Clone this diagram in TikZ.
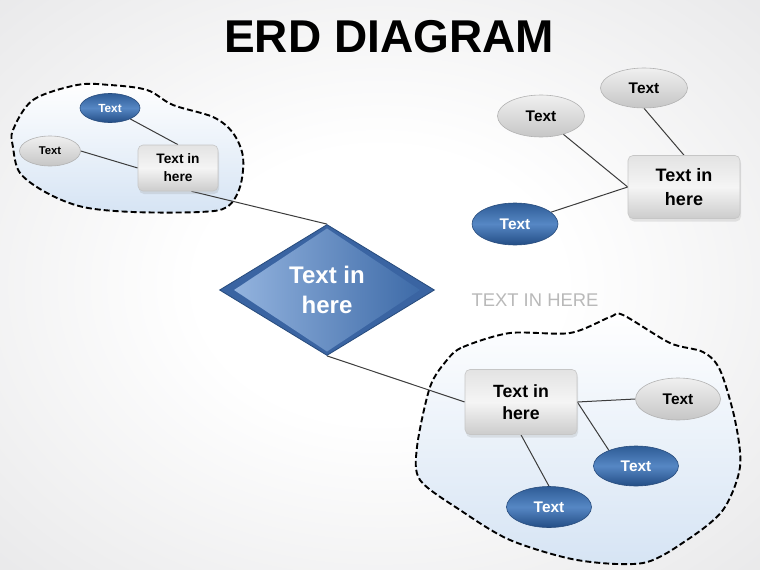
\documentclass[tikz,border=0pt]{standalone}
\usepackage{fontspec}
\setmainfont{Liberation Sans}
\usetikzlibrary{shapes.geometric,shadows}
\definecolor{bggray}{HTML}{DCDCDE}
\definecolor{bggray2}{HTML}{D2D2D4}
\definecolor{blobblue}{HTML}{D6E4F4}
\definecolor{linecol}{HTML}{3C3C3C}
\definecolor{bluetop}{HTML}{2E5C96}
\definecolor{bluemid}{HTML}{5687C4}
\definecolor{bluebot}{HTML}{234D85}
\definecolor{blueedge}{HTML}{274B7C}
\definecolor{diadark}{HTML}{3A64A2}
\definecolor{dialight}{HTML}{93B3DE}
\definecolor{diaright}{HTML}{3E6BA8}
\pgfdeclareradialshading{bgshade}{\pgfpoint{0bp}{0bp}}{color(0bp)=(white); color(12bp)=(white); color(50bp)=(bggray); color(71bp)=(bggray2)}
\pgfdeclarelayer{back}
\pgfdeclarelayer{lines}
\pgfsetlayers{back,lines,main}
\tikzset{
  gell/.style={ellipse, draw=gray!60, line width=0.6pt, top color=gray!12, bottom color=gray!45, inner sep=0pt, font=\bfseries, text=black},
  bell/.style={ellipse, draw=blueedge, line width=0.6pt, top color=bluetop, bottom color=bluebot, middle color=bluemid, inner sep=0pt, font=\bfseries, text=white},
  ebox/.style={rectangle, rounded corners=5pt, draw=gray!45, line width=0.6pt, top color=gray!22, bottom color=gray!40, middle color=gray!8, inner sep=0pt, align=center, font=\bfseries, text=black, drop shadow={opacity=0.18, shadow xshift=1pt, shadow yshift=-3pt}},
  link/.style={draw=linecol, line width=1pt},
  blob/.style={draw=black, line width=1.9pt, dash pattern=on 6pt off 3pt, top color=white, bottom color=blobblue},
}
\begin{document}
\begin{tikzpicture}[x=1pt,y=-1pt]
\useasboundingbox (0,0) rectangle (760,570);
\begin{pgfonlayer}{back}
  \shade[shading=bgshade] (0,0) rectangle (760,570);
  \path[blob] plot[smooth cycle, tension=0.55] coordinates {(13,130) (33,100) (77,85) (110,85) (147,90) (173,105) (213,117) (233,133) (243,157) (240,187) (227,207) (200,212) (133,212) (83,207) (47,193) (20,173) (13,147)};
  \path[blob] plot[smooth cycle, tension=0.5] coordinates {(447,360) (463,347) (510,333) (570,333) (610,317) (623,315) (670,343) (703,352) (720,370) (735,420) (740,467) (723,510) (687,540) (643,563) (577,560) (510,540) (460,510) (420,480) (417,447) (430,387)};
\end{pgfonlayer}

\node[font=\fontsize{46}{50}\selectfont\bfseries] (title) at (389,37) {ERD DIAGRAM};

% top-left group
\node[bell, minimum width=60pt, minimum height=29pt, font=\fontsize{11.8}{13}\selectfont\bfseries] (tlblue) at (110,108) {Text};
\node[gell, minimum width=61pt, minimum height=30pt, font=\fontsize{11.3}{13}\selectfont\bfseries] (tlgray) at (50,151) {Text};
\node[ebox, minimum width=80pt, minimum height=46pt, font=\fontsize{13.7}{18}\selectfont\bfseries] (tlbox) at (178,168) {Text in\\here};

% diamond
\node[diamond, fill=diadark, draw=blueedge, line width=0.8pt, minimum width=215pt, minimum height=131pt, inner sep=0pt] (dia) at (327,290) {};
\node[diamond, left color=dialight, right color=diaright, minimum width=186pt, minimum height=112pt, inner sep=0pt, align=center, text=white, font=\fontsize{24}{30}\selectfont\bfseries] (diain) at (327,290) {Text in\\here};

% top-right group
\node[gell, minimum width=87pt, minimum height=40pt, font=\fontsize{15.4}{18}\selectfont\bfseries] (trg1) at (644,88) {Text};
\node[gell, minimum width=87pt, minimum height=42pt, font=\fontsize{15.4}{18}\selectfont\bfseries] (trg2) at (541,116) {Text};
\node[bell, minimum width=86pt, minimum height=42pt, font=\fontsize{15.4}{18}\selectfont\bfseries] (trblue) at (515,224) {Text};
\node[ebox, minimum width=112pt, minimum height=63pt, font=\fontsize{18}{24}\selectfont\bfseries] (trbox) at (684,187) {Text in\\here};

\node[text=gray!55, font=\fontsize{18.4}{20}\selectfont] (label) at (535,300) {TEXT IN HERE};

% bottom-right group
\node[ebox, minimum width=112pt, minimum height=65pt, font=\fontsize{17.7}{22}\selectfont\bfseries] (brbox) at (521,402) {Text in\\here};
\node[gell, minimum width=85pt, minimum height=42pt, font=\fontsize{15.4}{18}\selectfont\bfseries] (brg) at (678,399) {Text};
\node[bell, minimum width=85pt, minimum height=40pt, font=\fontsize{15.4}{18}\selectfont\bfseries] (brb1) at (636,466) {Text};
\node[bell, minimum width=85pt, minimum height=41pt, font=\fontsize{15.4}{18}\selectfont\bfseries] (brb2) at (549,507) {Text};

\begin{pgfonlayer}{lines}
  \draw[link] (tlblue) -- (tlbox.north);
  \draw[link] (tlgray.east) -- (tlbox.west);
  \draw[link] (tlbox.-60) -- (dia.north);
  \draw[link] (dia.south) -- (brbox.west);
  \draw[link] (trg1.south) -- (trbox.north);
  \draw[link] (trg2) -- (trbox.west);
  \draw[link] (trblue) -- (trbox.west);
  \draw[link] (brbox.east) -- (brg.west);
  \draw[link] (brbox.east) -- (brb1.150);
  \draw[link] (brbox.south) -- (brb2.north);
\end{pgfonlayer}
\end{tikzpicture}
\end{document}
